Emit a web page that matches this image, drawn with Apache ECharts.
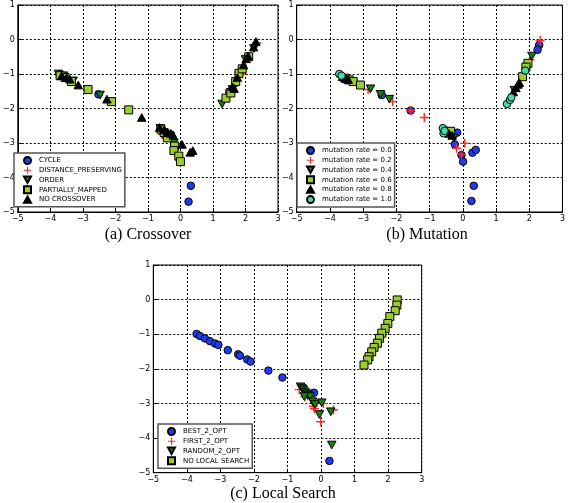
<!DOCTYPE html>
<html><head><meta charset="utf-8">
<script src="https://cdn.jsdelivr.net/npm/echarts@6/dist/echarts.min.js"></script>
<style>html,body{margin:0;padding:0;background:#fff}#c{width:568px;height:503px}</style>
</head><body><div id="c"></div>
<script>
// ---- axis ticks ----
const xTicks = [-5, -4, -3, -2, -1, 0, 1, 2, 3];
const yTicks = [-5, -4, -3, -2, -1, 0, 1];
const captions = ['(a) Crossover', '(b) Mutation', '(c) Local Search'];

// ---- (a) Crossover ----
const crossNames = ['CYCLE', 'DISTANCE_PRESERVING', 'ORDER', 'PARTIALLY_MAPPED', 'NO CROSSOVER'];
const cycle = [[-3.72,-1.0],[-2.52,-1.59],[-0.5,-2.75],[-0.3,-2.75],[1.5,-1.51],[1.7,-1.25],[0.32,-4.24],[0.25,-4.70]];
const distPres = [[2.35,-0.1],[1.9,-1.0],[1.52,-1.48],[-0.55,-2.75],[-0.45,-2.85],[-3.5,-1.1]];
const order = [[-3.75,-1.0],[-3.6,-1.05],[-3.3,-1.2],[-2.47,-1.61],[-0.62,-2.58],[-0.3,-2.82],[-0.2,-3.0],[1.28,-1.87],[1.6,-1.45],[2.0,-0.58],[2.26,-0.26],[1.8,-1.05]];
const partMapped = [[-3.7,-1.05],[-3.55,-1.1],[-3.35,-1.22],[-2.84,-1.45],[-2.12,-1.8],[-1.59,-2.04],[-0.6,-2.6],[-0.5,-2.7],[-0.4,-2.85],[-0.18,-3.09],[-0.2,-3.22],[-0.05,-3.38],[0.0,-3.54],[1.4,-1.7],[1.55,-1.55],[1.7,-1.22],[1.8,-0.98],[1.9,-0.85],[2.1,-0.5]];
const noCross = [[-3.65,-1.05],[-3.5,-1.1],[-3.4,-1.15],[-3.14,-1.32],[-2.26,-1.73],[-1.19,-2.26],[-0.64,-2.55],[-0.5,-2.62],[-0.4,-2.7],[-0.3,-2.72],[-0.22,-2.78],[0.05,-3.04],[0.3,-3.27],[0.38,-3.22],[1.6,-1.37],[1.65,-1.42],[1.75,-1.1],[1.94,-0.74],[2.02,-0.56],[2.08,-0.48],[2.25,-0.22],[2.32,-0.06]];

// ---- (b) Mutation ----
const mutNames = ['mutation rate = 0.0', 'mutation rate = 0.2', 'mutation rate = 0.4', 'mutation rate = 0.6', 'mutation rate = 0.8', 'mutation rate = 1.0'];
const mut00 = [[2.3,-0.16],[2.25,-0.3],[-2.44,-1.61],[-1.57,-2.06],[-0.17,-2.7],[-0.24,-3.04],[-0.04,-3.35],[0.01,-3.54],[0.29,-3.28],[0.39,-3.2],[0.33,-4.24],[0.26,-4.68],[-0.55,-2.62]];
const mut02 = [[2.33,-0.03],[2.03,-0.59],[-2.85,-1.45],[-2.11,-1.8],[-1.57,-2.06],[-1.16,-2.26],[-0.19,-3.15],[0.06,-3.01],[-0.04,-3.33],[-0.3,-2.8]];
const mut04 = [[-2.78,-1.43],[-2.48,-1.59],[-2.21,-1.73],[2.08,-0.48],[-0.5,-2.7],[-0.35,-2.75],[-0.27,-2.85],[1.55,-1.47]];
const mut06 = [[-3.55,-1.12],[-3.42,-1.17],[-3.3,-1.22],[-3.08,-1.32],[-0.45,-2.68],[-0.37,-2.66],[1.8,-1.08],[1.96,-0.69],[1.9,-0.8]];
const mut08 = [[-3.62,-1.08],[-3.52,-1.13],[-3.45,-1.16],[1.52,-1.52],[1.6,-1.4],[1.66,-1.3],[1.7,-1.25],[-0.42,-2.72],[-0.32,-2.78]];
const mut10 = [[-3.72,-1.0],[-3.65,-1.05],[-0.6,-2.57],[-0.58,-2.72],[-0.55,-2.65],[1.33,-1.87],[1.42,-1.75],[1.46,-1.68],[1.88,-0.9]];

// ---- (c) Local Search ----
const lsNames = ['BEST_2_OPT', 'FIRST_2_OPT', 'RANDOM_2_OPT', 'NO LOCAL SEARCH'];
const best2 = [[-3.71,-0.99],[-3.61,-1.05],[-3.46,-1.12],[-3.31,-1.2],[-3.16,-1.27],[-3.06,-1.31],[-2.78,-1.46],[-2.47,-1.58],[-2.42,-1.62],[-2.2,-1.73],[-2.1,-1.79],[-1.57,-2.05],[-1.15,-2.25],[-0.21,-2.69],[0.25,-4.66]];
const first2 = [[-0.65,-2.6],[-0.48,-2.81],[-0.4,-2.78],[-0.23,-3.08],[-0.2,-3.15],[-0.01,-3.53],[0.07,-3.0],[0.37,-3.19],[-0.3,-2.85]];
const random2 = [[-0.61,-2.52],[-0.56,-2.57],[-0.53,-2.61],[-0.48,-2.67],[-0.43,-2.72],[-0.38,-2.76],[-0.33,-2.8],[-0.5,-2.8],[-0.25,-2.95],[-0.18,-3.03],[0.02,-2.98],[-0.05,-3.32],[0.29,-3.24],[0.32,-4.2]];
const noLS = [[2.27,-0.01],[2.26,-0.16],[2.21,-0.32],[2.05,-0.49],[1.99,-0.69],[1.91,-0.83],[1.81,-0.97],[1.74,-1.12],[1.68,-1.26],[1.58,-1.38],[1.51,-1.51],[1.43,-1.65],[1.39,-1.74],[1.28,-1.89]];

// ---- styles ----
const PLUS = 'path://M4.2,0H5.8V4.2H10V5.8H5.8V10H4.2V5.8H0V4.2H4.2Z';
const TRI_DOWN = 'path://M0,0L10,0L5,9Z';
const TRI_UP = 'path://M5,0L10,9L0,9Z';
const sty = {
  blue:   {symbol:'circle', size:7.5, color:'#1c3cf5', border:1},
  red:    {symbol:PLUS, size:9, color:'#ff2a2a', border:0},
  green:  {symbol:TRI_DOWN, size:8.5, color:'#16800e', border:1},
  yg:     {symbol:'rect', size:8, color:'#9acd32', border:1},
  black:  {symbol:TRI_UP, size:8.5, color:'#000000', border:1},
  teal:   {symbol:'circle', size:7.5, color:'#3fe0a8', border:1}
};

const grids = [
  {left:12.7, top:5, width:265.3, height:207},
  {left:296.7, top:5, width:267.3, height:207},
  {left:153.3, top:265, width:268.4, height:207.7}
];

function fmt(v){ return v < 0 ? '\u2212' + Math.abs(v) : String(v); }

const xAxis = [], yAxis = [];
grids.forEach((g, i) => {
  const common = {
    interval:1, gridIndex:i,
    axisLine:{show:true, onZero:false, lineStyle:{color:'#000', width:1}},
    axisTick:{show:true, inside:true, length:4, lineStyle:{color:'#000'}},
    splitLine:{show:true, lineStyle:{color:'#000', width:1, type:[2,2]}},
    axisLabel:{fontSize:8, color:'#000', fontFamily:'DejaVu Sans', formatter:fmt, showMinLabel:true, showMaxLabel:true, margin:3}
  };
  xAxis.push(Object.assign({}, common, {type:'value', min:xTicks[0], max:xTicks[xTicks.length-1]}));
  yAxis.push(Object.assign({}, common, {type:'value', min:yTicks[0], max:yTicks[yTicks.length-1]}));
});

const series = [];
function add(name, data, s, gi){
  series.push({
    type:'scatter', name:name, data:data, xAxisIndex:gi, yAxisIndex:gi,
    symbol:s.symbol, symbolSize:s.size, symbolKeepAspect:true,
    itemStyle:{color:s.color, borderColor:'#000', borderWidth:s.border, opacity:1},
    emphasis:{disabled:true}, animation:false
  });
}
add(crossNames[0], cycle, sty.blue, 0);
add(crossNames[1], distPres, sty.red, 0);
add(crossNames[2], order, sty.green, 0);
add(crossNames[3], partMapped, sty.yg, 0);
add(crossNames[4], noCross, sty.black, 0);

add(mutNames[0], mut00, sty.blue, 1);
add(mutNames[1], mut02, sty.red, 1);
add(mutNames[2], mut04, sty.green, 1);
add(mutNames[3], mut06, sty.yg, 1);
add(mutNames[4], mut08, sty.black, 1);
add(mutNames[5], mut10, sty.teal, 1);

add(lsNames[0], best2, sty.blue, 2);
add(lsNames[1], first2, sty.red, 2);
add(lsNames[2], random2, sty.green, 2);
add(lsNames[3], noLS, sty.yg, 2);

function legend(names, left, top){
  return {
    data:names, orient:'vertical', left:left, top:top,
    itemWidth:7, itemHeight:7, itemGap:1.3,
    padding:[3,3,3,9],
    backgroundColor:'#fff', borderColor:'#555', borderWidth:1.5,
    textStyle:{fontSize:7, fontFamily:'DejaVu Sans', color:'#000', lineHeight:8, padding:[0,0,0,3]},
    selectedMode:false
  };
}

const capStyle = {fontSize:16, fontFamily:'Liberation Serif', fill:'#000', textAlign:'center', textVerticalAlign:'middle'};
const option = {
  animation:false,
  grid: grids.map(g => Object.assign({show:true, borderColor:'#000', borderWidth:1, backgroundColor:'transparent'}, g)),
  xAxis: xAxis, yAxis: yAxis, series: series,
  legend: [legend(crossNames, 14, 153), legend(mutNames, 297, 143), legend(lsNames, 158, 424)],
  graphic: [
    {type:'text', style:Object.assign({text:captions[0], x:148, y:235}, capStyle)},
    {type:'text', style:Object.assign({text:captions[1], x:427, y:235}, capStyle)},
    {type:'text', style:Object.assign({text:captions[2], x:283, y:494}, capStyle)}
  ]
};
const chart = echarts.init(document.getElementById('c'), null, {renderer:'canvas'});
chart.setOption(option);
</script></body></html>
